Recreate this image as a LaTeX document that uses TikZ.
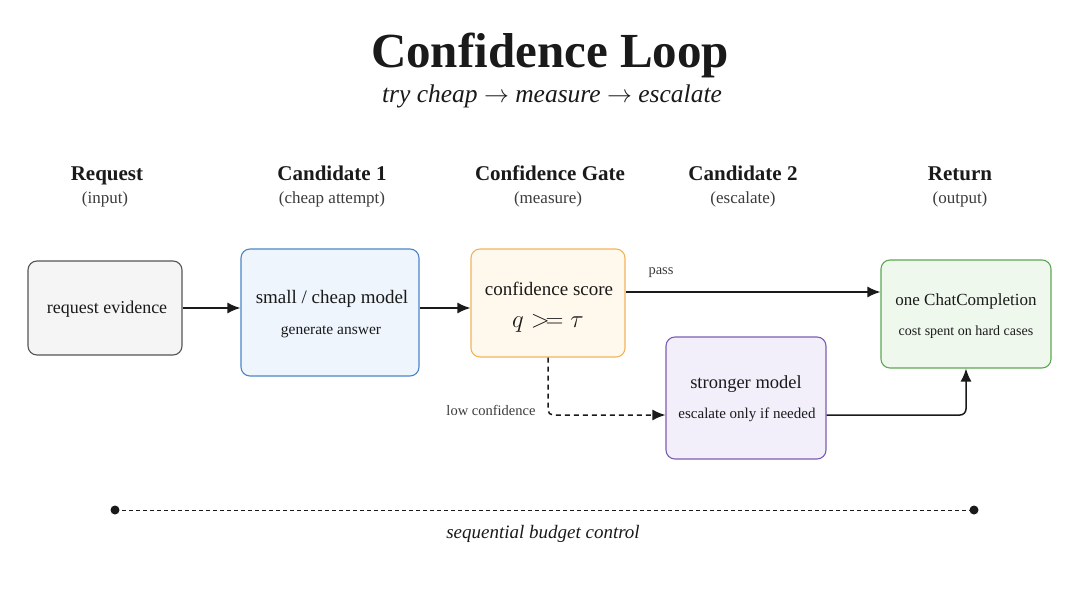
\documentclass[tikz,border=0pt]{standalone}
\usepackage{fontspec}
\setmainfont{Liberation Serif}
\usetikzlibrary{arrows.meta}
\definecolor{reqfill}{HTML}{F5F5F5}\definecolor{reqdraw}{HTML}{555555}
\definecolor{bluefill}{HTML}{EEF5FD}\definecolor{bluedraw}{HTML}{4A86C8}
\definecolor{orfill}{HTML}{FFF8EC}\definecolor{ordraw}{HTML}{F2B45C}
\definecolor{pufill}{HTML}{F2EFFB}\definecolor{pudraw}{HTML}{7B5EB4}
\definecolor{grfill}{HTML}{EFF8EC}\definecolor{grdraw}{HTML}{5FA855}
\definecolor{ink}{HTML}{1A1A1A}
\tikzset{
  box/.style={rounded corners=9pt, line width=1.1pt, inner sep=0pt},
  hdr/.style={font=\fontsize{21}{25}\selectfont\bfseries, text=ink, anchor=base},
  sub/.style={font=\fontsize{17}{20}\selectfont, text=ink!85, anchor=base},
  main/.style={font=\fontsize{18.5}{21}\selectfont, text=ink},
  small/.style={font=\fontsize{15}{17}\selectfont, text=ink},
  lbl/.style={font=\fontsize{14.5}{16}\selectfont, text=ink!85},
  conn/.style={line width=1.5pt, draw=ink, -{Latex[length=13pt,width=11pt]}},
}
\begin{document}
\begin{tikzpicture}[x=1pt,y=-1pt]
\useasboundingbox[fill=white] (0,0) rectangle (1080,608);
% title
\node[font=\fontsize{49}{54}\selectfont\bfseries, text=ink, anchor=base] (title) at (550,67) {Confidence Loop};
\node[font=\fontsize{25.5}{30}\selectfont\itshape, text=ink, anchor=base] (subtitle) at (552,102) {try cheap $\rightarrow$ measure $\rightarrow$ escalate};
% headers
\node[hdr] (h1) at (107,180) {Request};
\node[sub] (s1) at (105,203) {(input)};
\node[hdr] (h2) at (332,180) {Candidate 1};
\node[sub] (s2) at (332,203) {(cheap attempt)};
\node[hdr] (h3) at (550,180) {Confidence Gate};
\node[sub] (s3) at (548,203) {(measure)};
\node[hdr] (h4) at (743,180) {Candidate 2};
\node[sub] (s4) at (743,203) {(escalate)};
\node[hdr] (h5) at (960,180) {Return};
\node[sub] (s5) at (960,203) {(output)};
% boxes
\node[box, draw=reqdraw, fill=reqfill, minimum width=154pt, minimum height=94pt] (req) at (105,308) {};
\node[box, draw=bluedraw, fill=bluefill, minimum width=178pt, minimum height=127pt] (c1) at (330,312.5) {};
\node[box, draw=ordraw, fill=orfill, minimum width=154pt, minimum height=108pt] (gate) at (548,303) {};
\node[box, draw=pudraw, fill=pufill, minimum width=160pt, minimum height=122pt] (c2) at (746,398) {};
\node[box, draw=grdraw, fill=grfill, minimum width=170pt, minimum height=108pt] (ret) at (966,314) {};
% box texts
\node[font=\fontsize{18}{21}\selectfont, text=ink] (t1) at (107,309) {request evidence};
\node[font=\fontsize{19}{22}\selectfont, text=ink] (t2) at (332,299) {small / cheap model};
\node[font=\fontsize{15.5}{18}\selectfont, text=ink] (t2b) at (331,332) {generate answer};
\node[font=\fontsize{19}{22}\selectfont, text=ink] (t3) at (549,289) {confidence score};
\node[font=\fontsize{23}{27}\selectfont, text=ink] (t3b) at (548,323) {$q >\!= \tau$};
\node[main] (t4) at (746,384) {stronger model};
\node[small] (t4b) at (747,415) {escalate only if needed};
\node[font=\fontsize{17}{20}\selectfont, text=ink] (t5) at (966,301) {one ChatCompletion};
\node[font=\fontsize{14}{16}\selectfont, text=ink] (t5b) at (966,332) {cost spent on hard cases};
% connectors
\draw[conn] (req.east) -- (req.east -| c1.west);
\draw[conn] (c1.east |- req.east) -- (c1.east |- req.east -| gate.west);
\coordinate (pA) at (625,292);
\draw[conn] (gate.east |- pA) -- (ret.west |- pA);
\node[lbl, anchor=west] (pass) at (645,273) {pass};
\coordinate (lowc) at (548,415);
\draw[conn, dash pattern=on 5pt off 4pt, rounded corners=5pt] (gate.south) -- (lowc) -- (c2.west |- lowc);
\node[lbl, anchor=east] (lowl) at (539,410) {low confidence};
\coordinate (strc) at (966,415);
\draw[conn, rounded corners=6pt] (c2.east |- strc) -- (strc) -- (ret.south);
% bottom
\coordinate (bl) at (115,510);
\coordinate (br) at (974,510);
\draw[line width=0.9pt, draw=ink, dash pattern=on 4pt off 3pt] (bl) -- (br);
\fill[ink] (bl) circle (4.5pt);
\fill[ink] (br) circle (4.5pt);
\node[font=\fontsize{19}{22}\selectfont\itshape, text=ink] (budget) at (543,534) {sequential budget control};
\end{tikzpicture}
\end{document}
